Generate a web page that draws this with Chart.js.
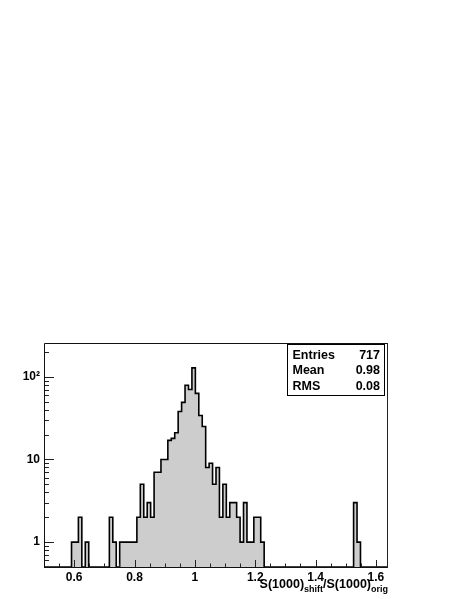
<!DOCTYPE html>
<html>
<head>
<meta charset="utf-8">
<title>S(1000) shift ratio</title>
<script src="https://cdn.jsdelivr.net/npm/chart.js@4.4.1/dist/chart.umd.min.js"></script>
<style>
  html, body { margin: 0; padding: 0; background: #fff; }
  #wrap { position: relative; width: 463px; height: 599px; }
</style>
</head>
<body>
<div id="wrap"><canvas id="hist"></canvas></div>
<script>
// histogram: 100 equal bins between binLow and binHigh
const binLow = 0.5;
const binHigh = 1.64;
const counts = [
  0, 0, 0, 0, 0, 0, 0, 0, 1, 1,
  2, 0, 1, 0, 0, 0, 0, 0, 0, 2,
  1, 0, 1, 1, 1, 1, 1, 2, 5, 2,
  3, 2, 7, 7, 10, 10, 17, 18, 21, 38,
  49, 79, 70, 128, 63, 34, 25, 8, 9, 5,
  8, 2, 5, 2, 3, 3, 2, 1, 3, 1,
  1, 2, 2, 1, 0, 0, 0, 0, 0, 0,
  0, 0, 0, 0, 0, 0, 0, 0, 0, 0,
  0, 0, 0, 0, 0, 0, 0, 0, 0, 0,
  3, 1, 0, 0, 0, 0, 0, 0, 0, 0
];
const xTickLabels = ['0.6', '0.8', '1', '1.2', '1.4', '1.6'];
const yTickLabels = ['1', '10', '10²'];
const statNames = ['Entries', 'Mean', 'RMS'];
const statValues = ['717', '0.98', '0.08'];
const axisTitle = [['S(1000)', false], ['shift', true], ['/S(1000)', false], ['orig', true]];

const yMin = 0.5;
const yMax = 2 * Math.max(...counts);
const FONT = '"Liberation Sans", Arial, Helvetica, sans-serif';

// points on the left edge of each bin, empty bins sit on the frame bottom
const binWidth = (binHigh - binLow) / counts.length;
const points = counts.map((c, i) => ({ x: binLow + i * binWidth, y: c > 0 ? c : yMin }));
points.push({ x: binHigh, y: yMin });

const rootFrame = {
  id: 'rootFrame',
  afterDraw(chart) {
    const { ctx, chartArea: a, scales: { x, y } } = chart;
    ctx.save();

    // ticks, drawn inside the frame like ROOT does
    ctx.strokeStyle = '#222';
    ctx.lineWidth = 1;
    ctx.beginPath();
    x.ticks.forEach(t => {
      const n = Math.round(t.value * 100);
      if (Math.abs(t.value * 100 - n) > 1e-6 || n % 5) return;
      const px = Math.round(x.getPixelForValue(t.value)) + 0.5;
      const len = n % 20 === 0 ? 7 : 3.5;
      ctx.moveTo(px, a.bottom);
      ctx.lineTo(px, a.bottom - len);
    });
    y.ticks.forEach(t => {
      const e = Math.floor(Math.log10(t.value) + 1e-9);
      const sig = t.value / Math.pow(10, e);
      if (Math.abs(sig - Math.round(sig)) > 1e-6) return;
      const py = Math.round(y.getPixelForValue(t.value)) + 0.5;
      const len = Math.round(sig) === 1 ? 10 : 5;
      ctx.moveTo(a.left, py);
      ctx.lineTo(a.left + len, py);
    });
    ctx.stroke();

    // frame
    ctx.strokeStyle = '#111';
    ctx.beginPath();
    ctx.moveTo(a.left + 0.5, a.top + 0.5);
    ctx.lineTo(a.left + 0.5, a.bottom + 0.5);
    ctx.lineTo(a.right - 0.5, a.bottom + 0.5);
    ctx.moveTo(a.left + 0.5, a.top + 0.5);
    ctx.lineTo(a.right - 0.5, a.top + 0.5);
    ctx.stroke();
    ctx.strokeStyle = '#3c1818';
    ctx.beginPath();
    ctx.moveTo(a.right - 0.5, a.top);
    ctx.lineTo(a.right - 0.5, a.bottom + 1);
    ctx.stroke();

    // stats box
    const bx = a.right - 100.5, by = a.top + 1.5, bw = 97, bh = 51;
    ctx.fillStyle = '#fff';
    ctx.fillRect(bx, by, bw, bh);
    ctx.strokeStyle = '#000';
    ctx.strokeRect(bx, by, bw, bh);
    ctx.fillStyle = '#000';
    ctx.font = 'bold 12.5px ' + FONT;
    ctx.textBaseline = 'alphabetic';
    statNames.forEach((s, i) => {
      const ty = a.top + 15.5 + i * 15.5;
      ctx.textAlign = 'left';
      ctx.fillText(s, bx + 5, ty);
      ctx.textAlign = 'right';
      ctx.fillText(statValues[i], bx + bw - 4.5, ty);
    });

    // x axis title with subscripts, right aligned on the axis end
    const big = 'bold 12.5px ' + FONT, small = 'bold 9px ' + FONT;
    const widths = axisTitle.map(([t, sub]) => { ctx.font = sub ? small : big; return ctx.measureText(t).width; });
    let tx = a.right - widths.reduce((s, w) => s + w, 0);
    ctx.textAlign = 'left';
    axisTitle.forEach(([t, sub], i) => {
      ctx.font = sub ? small : big;
      ctx.fillText(t, tx, a.bottom + (sub ? 24.5 : 21));
      tx += widths[i];
    });
    ctx.restore();
  }
};

const histConfig = {
  type: 'line',
  data: {
    datasets: [
      {
        data: points,
        stepped: true,
        fill: 'start',
        backgroundColor: '#cdcdcd',
        borderColor: '#000',
        borderWidth: 1.6,
        borderJoinStyle: 'miter',
        pointRadius: 0,
        tension: 0,
      },
    ],
  },
  options: {
    responsive: true,
    maintainAspectRatio: false,
    animation: false,
    events: [],
    layout: { padding: { top: 343, right: 75, left: 0, bottom: 0 } },
    plugins: { legend: { display: false }, tooltip: { enabled: false } },
    scales: {
      x: {
        type: 'linear',
        min: binLow,
        max: binHigh,
        bounds: 'data',
        grid: { display: false, drawTicks: false },
        border: { display: false },
        afterFit: s => { s.height = 32; },
        ticks: {
          stepSize: 0.05,
          autoSkip: false,
          maxRotation: 0,
          minRotation: 0,
          padding: 3,
          color: '#000',
          font: { family: FONT, size: 12, weight: 'bold' },
          callback: v => {
            const s = String(Math.round(v * 100) / 100);
            return xTickLabels.includes(s) ? s : '';
          },
        },
      },
      y: {
        type: 'logarithmic',
        min: yMin,
        max: yMax,
        grid: { display: false, drawTicks: false },
        border: { display: false },
        afterFit: s => { s.width = 44; },
        ticks: {
          autoSkip: false,
          padding: 4,
          color: '#000',
          font: { family: FONT, size: 12, weight: 'bold' },
          callback: v => {
            const d = Math.log10(v);
            if (Math.abs(d - Math.round(d)) > 1e-9) return '';
            return yTickLabels[Math.round(d)] || '';
          },
        },
      },
    },
  },
  plugins: [rootFrame],
};

window.histChart = new Chart(document.getElementById('hist'), histConfig);
</script>
</body>
</html>
